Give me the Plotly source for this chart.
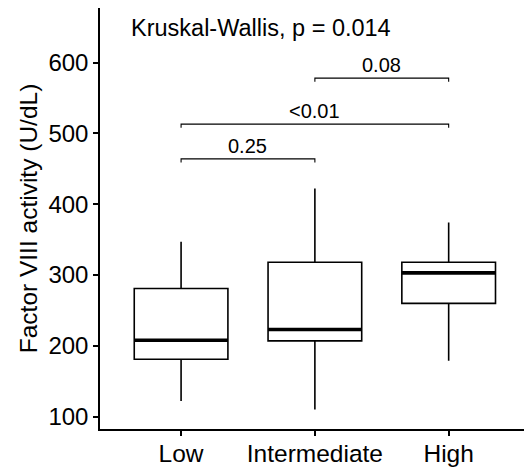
import plotly.graph_objects as go

categories = ["Low", "Intermediate", "High"]
lower_whisker = [122, 110, 179]
q1 = [181, 207, 260]
median = [208, 223, 303]
q3 = [281, 318, 318]
upper_whisker = [347, 422, 374]

y_ticks = [100, 200, 300, 400, 500, 600]

# pairwise comparisons: (group a index, group b index, bracket height, label)
comp_a = [0, 0, 1]
comp_b = [1, 2, 2]
comp_y = [464, 513, 578]
comp_labels = ["0.25", "<0.01", "0.08"]

kw_label = "Kruskal-Wallis, p = 0.014"
kw_y = 649

FONT = "Arial, Liberation Sans, sans-serif"
box_w = 0.7

fig = go.Figure()
fig.add_trace(go.Box(
    x=categories, q1=q1, median=median, q3=q3,
    lowerfence=lower_whisker, upperfence=upper_whisker,
    width=box_w, fillcolor="white",
    line=dict(color="black", width=1.6),
    whiskerwidth=0, boxpoints=False, showlegend=False, hoverinfo="skip",
))

# thick median lines
mx, my = [], []
for i, m in enumerate(median):
    mx += [i - box_w / 2, i + box_w / 2, None]
    my += [m, m, None]
fig.add_trace(go.Scatter(x=mx, y=my, mode="lines",
                         line=dict(color="black", width=3.6),
                         showlegend=False, hoverinfo="skip", xaxis="x2"))

tip = 5
for a, b, yv, lab in zip(comp_a, comp_b, comp_y, comp_labels):
    fig.add_shape(type="path", xref="x2", yref="y",
                  path=f"M {a},{yv - tip} L {a},{yv} L {b},{yv} L {b},{yv - tip}",
                  line=dict(color="black", width=1.1))
    fig.add_annotation(x=(a + b) / 2, y=yv, xref="x2", yref="y", text=lab,
                       showarrow=False, yanchor="bottom", yshift=0,
                       font=dict(family=FONT, size=20, color="black"))

fig.add_annotation(x=-0.39, y=kw_y, xref="x2", yref="y", text=kw_label,
                   showarrow=False, xanchor="left", yanchor="middle",
                   font=dict(family=FONT, size=23.5, color="black"))

xr = [-0.606, 2.563]
fig.update_layout(
    width=524, height=469,
    margin=dict(l=100, r=0, t=8, b=40),
    plot_bgcolor="white", paper_bgcolor="white",
    font=dict(family=FONT, color="black"),
    xaxis=dict(range=xr, type="category", showgrid=False, zeroline=False,
               showline=True, linecolor="black", linewidth=1.5,
               ticks="outside", ticklen=5, tickwidth=1.5, tickcolor="black",
               ticklabelstandoff=-3,
               tickfont=dict(family=FONT, size=24.5, color="black")),
    xaxis2=dict(range=xr, overlaying="x", visible=False, matches=None),
    yaxis=dict(range=[82.6, 677], tickvals=y_ticks, showgrid=False, zeroline=False,
               showline=True, linecolor="black", linewidth=1.5,
               ticks="outside", ticklen=5, tickwidth=1.5, tickcolor="black",
               tickfont=dict(family=FONT, size=24, color="black"),
               title=dict(text="Factor VIII activity (U/dL)", standoff=4,
                          font=dict(family=FONT, size=24.5, color="black"))),
)

fig.write_html("out.html", config={"displayModeBar": False},
               post_script="document.body.style.margin='0px';")
